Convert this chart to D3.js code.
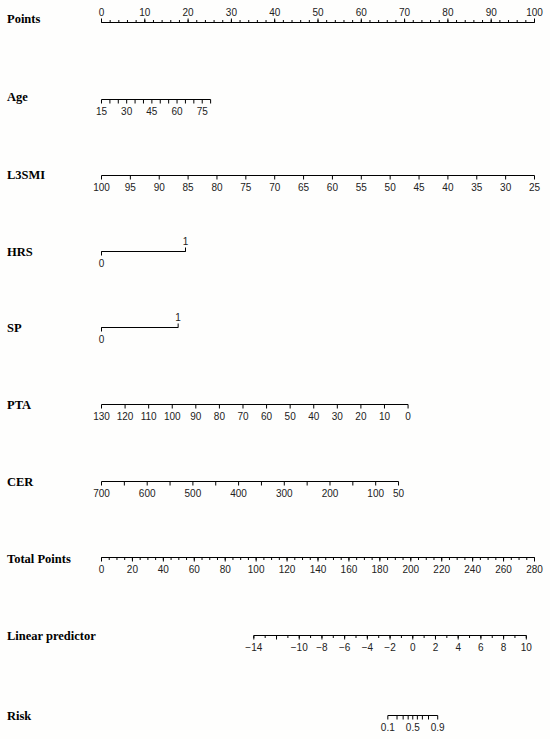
<!DOCTYPE html>
<html>
<head>
<meta charset="utf-8">
<script src="https://cdn.jsdelivr.net/npm/d3@7.9.0/dist/d3.min.js"></script>
<style>
  body { margin: 0; background: #fefefd; }
  svg { display: block; }
</style>
</head>
<body>
<div id="chart"></div>
<script>
// --- nomogram values ---
const pointsLabels = [0, 10, 20, 30, 40, 50, 60, 70, 80, 90, 100];
const pointsMinorStep = 2;

const ageRange = [15, 80];          // variable values at both ends
const agePoints = [0, 25.2];        // points those ends map to
const ageLabels = [15, 30, 45, 60, 75];
const ageTickStep = 5;

const l3smiRange = [100, 25];
const l3smiPoints = [0, 100];
const l3smiLabels = [100, 95, 90, 85, 80, 75, 70, 65, 60, 55, 50, 45, 40, 35, 30, 25];

const hrsRange = [0, 1];
const hrsPoints = [0, 19.4];

const spRange = [0, 1];
const spPoints = [0, 17.7];

const ptaRange = [130, 0];
const ptaPoints = [0, 70.8];
const ptaLabels = [130, 120, 110, 100, 90, 80, 70, 60, 50, 40, 30, 20, 10, 0];

const cerRange = [700, 50];
const cerPoints = [0, 68.6];
const cerTicks = [700, 650, 600, 550, 500, 450, 400, 350, 300, 250, 200, 150, 100, 50];
const cerLabels = [700, 600, 500, 400, 300, 200, 100, 50];

const totalRange = [0, 280];
const totalLabels = [0, 20, 40, 60, 80, 100, 120, 140, 160, 180, 200, 220, 240, 260, 280];
const totalMinorStep = 5;

const lpRange = [-14, 10];
const lpTotalPoints = [98.5, 274.7]; // total points at lp -14 and 10
const lpTicks = [-14, -12, -10, -8, -6, -4, -2, 0, 2, 4, 6, 8, 10];
const lpLabels = [-14, -10, -8, -6, -4, -2, 0, 2, 4, 6, 8, 10];
const lpMinorStep = 1;

const riskTicks = [0.1, 0.2, 0.3, 0.4, 0.5, 0.6, 0.7, 0.8, 0.9];
const riskLabels = [0.1, 0.5, 0.9];

// --- layout ---
const width = 550, height = 739;
const x0 = 101, x1 = 534;
const rowY = {
  points: 22, age: 99, l3smi: 175, hrs: 251, sp: 327,
  pta: 404, cer: 481, total: 557, lp: 635, risk: 715,
};

const svg = d3.select('#chart').append('svg')
  .attr('width', width).attr('height', height)
  .attr('viewBox', `0 0 ${width} ${height}`);

const pointsX = d3.scaleLinear().domain([0, 100]).range([x0, x1]);
const varScale = (range, pts) => d3.scaleLinear().domain(range).range(pts.map(pointsX));

const ageX = varScale(ageRange, agePoints);
const l3smiX = varScale(l3smiRange, l3smiPoints);
const hrsX = varScale(hrsRange, hrsPoints);
const spX = varScale(spRange, spPoints);
const ptaX = varScale(ptaRange, ptaPoints);
const cerX = varScale(cerRange, cerPoints);

const totalX = d3.scaleLinear().domain(totalRange).range([x0, x1]);
const lpX = d3.scaleLinear().domain(lpRange).range(lpTotalPoints.map(totalX));

// risk sits on the linear predictor through the logit
function riskX(p) { return lpX(Math.log(p / (1 - p))); }
riskX.range = () => [riskX(riskTicks[0]), riskX(riskTicks[riskTicks.length - 1])];
riskX.copy = () => riskX;

function title(y, text, dy = 5) {
  svg.append('text')
    .attr('x', 7).attr('y', y + dy)
    .attr('font-family', '"Liberation Serif", "Times New Roman", serif')
    .attr('font-weight', 'bold')
    .attr('font-size', 12.5)
    .attr('fill', '#000')
    .text(text);
}

function styleAxis(g) {
  g.select('.domain').remove();
  g.attr('font-family', null).attr('font-size', null);
  g.selectAll('line').attr('stroke', '#000').attr('stroke-width', 1);
  g.selectAll('text')
    .attr('font-family', '"Liberation Sans", Arial, sans-serif')
    .attr('font-size', 10)
    .attr('fill', '#222');
}

function drawAxis(y, x, { labels, major = labels, minor = [], side = 'bottom' }) {
  const mk = side === 'top' ? d3.axisTop : d3.axisBottom;
  const g = svg.append('g').attr('transform', `translate(0,${y + 0.5})`);
  const [a, b] = x.range();
  g.append('line').attr('x1', a + 0.5).attr('x2', b + 0.5)
    .attr('stroke', '#000').attr('stroke-width', 1.2);
  g.append('g').call(mk(x).tickValues(minor).tickSize(2.5).tickSizeOuter(0).tickFormat(''))
    .call(styleAxis);
  g.append('g').call(mk(x).tickValues(major).tickSize(4).tickSizeOuter(0).tickFormat(''))
    .call(styleAxis);
  g.append('g').call(mk(x).tickValues(labels).tickSize(0).tickSizeOuter(0)
      .tickPadding(side === 'top' ? 7 : 8).tickFormat(d => String(d).replace('-', '\u2212')))
    .call(styleAxis);
}

// Points
title(rowY.points, 'Points', 1);
drawAxis(rowY.points, pointsX, {
  labels: pointsLabels,
  minor: d3.range(0, 100 + 1e-9, pointsMinorStep),
  side: 'top',
});

// Age
title(rowY.age, 'Age', 2);
drawAxis(rowY.age, ageX, {
  labels: ageLabels,
  major: d3.range(ageRange[0], ageRange[1] + 1e-9, ageTickStep),
});

// L3SMI
title(rowY.l3smi, 'L3SMI', 4);
drawAxis(rowY.l3smi, l3smiX, { labels: l3smiLabels });

// HRS and SP: 0 below, 1 above
function drawBinary(y, x, name) {
  title(y, name);
  drawAxis(y, x, { labels: [x.domain()[0]] });
  drawAxis(y, x, { labels: [x.domain()[1]], side: 'top' });
}
drawBinary(rowY.hrs, hrsX, 'HRS');
drawBinary(rowY.sp, spX, 'SP');

// PTA
title(rowY.pta, 'PTA');
drawAxis(rowY.pta, ptaX, { labels: ptaLabels });

// CER
title(rowY.cer, 'CER');
drawAxis(rowY.cer, cerX, { labels: cerLabels, major: cerTicks });

// Total Points
title(rowY.total, 'Total Points', 6);
drawAxis(rowY.total, totalX, {
  labels: totalLabels,
  minor: d3.range(totalRange[0], totalRange[1] + 1e-9, totalMinorStep),
});

// Linear predictor
title(rowY.lp, 'Linear predictor');
drawAxis(rowY.lp, lpX, {
  labels: lpLabels,
  major: lpTicks,
  minor: d3.range(lpRange[0], lpRange[1] + 1e-9, lpMinorStep),
});

// Risk
title(rowY.risk, 'Risk');
drawAxis(rowY.risk, riskX, { labels: riskLabels, major: riskTicks });
</script>
</body>
</html>
